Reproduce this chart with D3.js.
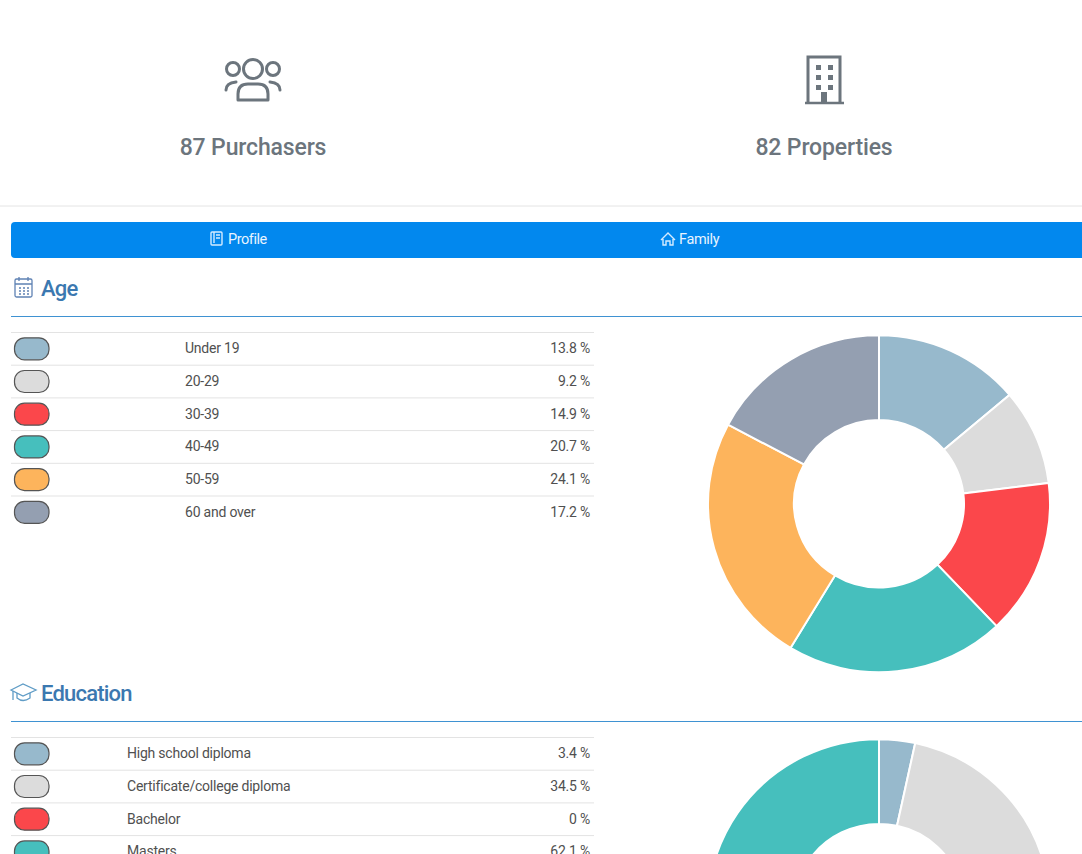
<!DOCTYPE html>
<html>
<head>
<meta charset="utf-8">
<script src="https://cdn.jsdelivr.net/npm/d3@7"></script>
<style>
html, body { margin: 0; padding: 0; background: #fff; overflow: hidden; }
svg { display: block; }
text { font-family: Roboto, sans-serif; }
</style>
</head>
<body>
<svg id="graph" width="1082" height="854"></svg>
<script>
var ageLabels = ["Under 19", "20-29", "30-39", "40-49", "50-59", "60 and over"]
var ageValues = [13.8, 9.2, 14.9, 20.7, 24.1, 17.2]
var ageText = ["13.8 %", "9.2 %", "14.9 %", "20.7 %", "24.1 %", "17.2 %"]

var eduLabels = ["High school diploma", "Certificate/college diploma", "Bachelor", "Masters"]
var eduValues = [3.4, 34.5, 0, 62.1]
var eduText = ["3.4 %", "34.5 %", "0 %", "62.1 %"]

var colors = ["#97b9cc", "#dcdcdc", "#fb474b", "#46bfbd", "#fdb45c", "#949fb1"]

var svg = d3.select("#graph")
var grey = "#6c757d", blue = "#3b78b0", ink = "#505050"

// top counters
svg.append("text").attr("x", 253).attr("y", 155).attr("text-anchor", "middle").attr("letter-spacing", -0.15)
    .attr("font-size", 23).attr("font-weight", 500).attr("fill", grey).text("87 Purchasers")
svg.append("text").attr("x", 824).attr("y", 155).attr("text-anchor", "middle").attr("letter-spacing", -0.15)
    .attr("font-size", 23).attr("font-weight", 500).attr("fill", grey).text("82 Properties")

// people icon
var people = svg.append("g").attr("fill", "none").attr("stroke", grey).attr("stroke-width", 3)
    .attr("stroke-linecap", "round")
people.append("circle").attr("cx", 253).attr("cy", 69).attr("r", 9.5)
people.append("circle").attr("cx", 233).attr("cy", 69).attr("r", 6.5)
people.append("circle").attr("cx", 273).attr("cy", 69).attr("r", 6.5)
people.append("path").attr("d", "M238 100 V94 Q238 84 248 84 H258 Q268 84 268 94 V100 Z").attr("stroke-linejoin", "round")
people.append("path").attr("d", "M226 90 Q226 83 236 82")
people.append("path").attr("d", "M280 90 Q280 83 270 82")

// building icon
var building = svg.append("g").attr("fill", "none").attr("stroke", grey).attr("stroke-width", 3)
building.append("path").attr("d", "M808 103 V57 H840 V103")
building.append("path").attr("d", "M805 103 H844").attr("stroke-width", 2.6)
building.append("rect").attr("x", 821).attr("y", 92).attr("width", 6).attr("height", 10).attr("fill", grey).attr("stroke", "none")
;[65, 75, 85].forEach(y => [816, 828].forEach(x => {
    building.append("rect").attr("x", x).attr("y", y).attr("width", 5).attr("height", 5)
        .attr("fill", grey).attr("stroke", "none")
}))

svg.append("line").attr("x1", 0).attr("x2", 1082).attr("y1", 206).attr("y2", 206).attr("stroke", "#e4e4e4")

// tab bar
svg.append("path").attr("d", "M1082 222 H15 Q11 222 11 226 V254 Q11 258 15 258 H1082 Z").attr("fill", "#0288ee")
svg.append("text").attr("x", 228).attr("y", 244).attr("font-size", 14.5).attr("letter-spacing", -0.45)
    .attr("fill", "#e8f4ff").text("Profile")
svg.append("text").attr("x", 679).attr("y", 244).attr("font-size", 14.5).attr("letter-spacing", -0.35)
    .attr("fill", "#e8f4ff").text("Family")
svg.append("g").attr("fill", "none").attr("stroke", "#d5ebff").attr("stroke-width", 1.4).call(g => {
    g.append("rect").attr("x", 211).attr("y", 232).attr("width", 11).attr("height", 13).attr("rx", 1)
    g.append("path").attr("d", "M214 232 V243 M216 235 H220 M216 238 H220")
    g.append("path").attr("d", "M661 240 L668 233 L675 240 M663 239 V245 H666 V241 H670 V245 H673 V239")
})

function section(top, title, labels, values, texts, labelX, cy) {
    svg.append("text").attr("x", 41).attr("y", top + 8).attr("font-size", 22).attr("letter-spacing", -0.8)
        .attr("font-weight", 500).attr("fill", blue).text(title)
    svg.append("line").attr("x1", 11).attr("x2", 1082).attr("y1", top + 28.5).attr("y2", top + 28.5)
        .attr("stroke", "#3f92d2")

    var y = d3.scaleBand().domain(labels).range([top + 44, top + 44 + 32.7 * labels.length])
    var rows = svg.append("g").selectAll("g").data(labels).enter().append("g")
        .attr("transform", d => "translate(0," + y(d) + ")")

    rows.append("line").attr("x1", 11).attr("x2", 594).attr("y1", 0.5).attr("y2", 0.5).attr("stroke", "#e3e3e3")
    rows.append("rect").attr("x", 14.5).attr("y", 5.8).attr("width", 34.5).attr("height", 22).attr("rx", 10)
        .attr("fill", (d, i) => colors[i]).attr("stroke", "#555").attr("stroke-width", 1.2)
    rows.append("text").attr("x", labelX).attr("y", 21.4).attr("font-size", 14).attr("letter-spacing", -0.22)
        .attr("fill", ink).text(d => d)
    rows.append("text").attr("x", 590).attr("y", 21.4).attr("text-anchor", "end").attr("font-size", 14)
        .attr("letter-spacing", -0.22).attr("fill", ink).text((d, i) => texts[i])

    var pie = d3.pie().sort(null)
    var arc = d3.arc().innerRadius(85).outerRadius(171)
    svg.append("g").attr("transform", "translate(879," + cy + ") scale(1,0.985)")
        .selectAll("path").data(pie(values)).enter().append("path")
        .attr("d", arc).attr("fill", (d, i) => colors[i]).attr("stroke", "#fff").attr("stroke-width", 2)
}

section(288, "Age", ageLabels, ageValues, ageText, 185, 503.8)
section(693, "Education", eduLabels, eduValues, eduText, 127, 907.6)

// calendar icon
svg.append("g").attr("fill", "none").attr("stroke", "#5f82b4").attr("stroke-width", 1.3).call(g => {
    g.append("rect").attr("x", 15).attr("y", 279).attr("width", 17).attr("height", 18).attr("rx", 1.5)
    g.append("path").attr("d", "M15 284 H32 M19 277 V281 M28 277 V281")
    g.append("path").attr("d", "M19 288 H29 M19 291 H29 M19 294 H29").attr("stroke-dasharray", "2 2").attr("stroke-width", 1.6)
})
// graduation cap icon
svg.append("g").attr("fill", "none").attr("stroke", "#5f9cc6").attr("stroke-width", 1.3).call(g => {
    g.append("path").attr("d", "M11 690 L23 684 L36 690 L23 696 Z")
    g.append("path").attr("d", "M17 693 V698 Q23 703 30 698 V693 M13 691 V700")
})
</script>
</body>
</html>
